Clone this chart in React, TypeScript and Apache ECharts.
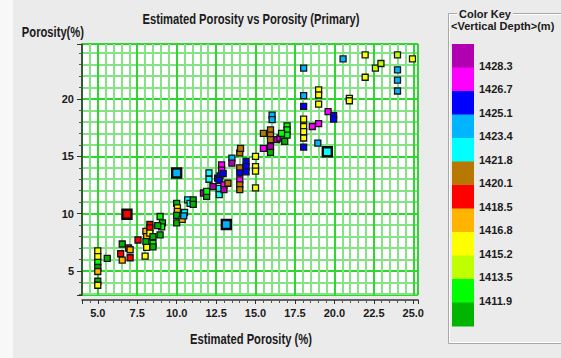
import React, { useEffect, useRef } from "react";
import * as echarts from "echarts";

// ---- data ----
const estPorosity = [
  5.0, 5.0, 5.0, 5.0, 5.0, 5.0, 5.0, 5.6, 6.55, 6.45, 6.55, 6.95, 7.05, 7.05, 7.55,
  8.0, 8.05, 8.1, 8.05, 8.1, 8.3, 8.3, 8.3, 8.5, 8.5, 8.5, 8.95, 9.1, 9.05, 8.8, 8.95,
  10.0, 10.05, 10.05, 10.0, 10.0, 10.35, 10.5, 10.45, 10.7, 10.85, 11.05, 11.05,
  11.7, 11.9, 11.9, 12.05, 12.05, 12.3, 12.6, 12.75, 12.7, 12.85, 12.85, 12.95, 12.7, 12.7,
  13.0, 13.0, 13.25, 13.5, 13.5, 14.0, 14.05, 14.0, 14.0, 14.0, 14.0, 14.0, 14.4, 14.4, 14.4,
  15.0, 15.0, 15.0, 15.0, 15.5, 15.95, 15.95, 15.95, 15.95, 15.95, 15.5, 16.05, 16.05,
  16.35, 16.55, 16.75, 17.0, 17.0, 17.0, 16.65, 16.85,
  18.05, 18.05, 18.05, 18.05, 18.05, 18.05, 18.05, 18.05, 18.6, 19.0, 18.95,
  19.0, 19.0, 19.0, 19.6, 19.95, 19.95, 20.95, 20.95, 20.55, 21.95, 21.95, 22.6, 22.95,
  24.0, 24.0, 24.0, 24.0, 24.95,
];
const porosity = [
  6.75, 6.25, 5.75, 5.3, 4.95, 4.1, 3.75, 6.1, 7.35, 6.5, 5.95, 7.0, 6.85, 6.15, 7.7,
  6.3, 8.45, 8.0, 7.55, 7.05, 9.05, 8.75, 8.3, 8.0, 7.4, 7.1, 9.75, 9.2, 8.85, 8.95, 8.15,
  10.9, 10.5, 10.2, 9.85, 9.2, 9.5, 10.1, 9.8, 11.2, 10.9, 11.2, 10.8,
  11.8, 11.5, 11.95, 13.55, 13.0, 12.35, 13.1, 13.3, 12.9, 14.25, 13.8, 13.5, 12.2, 11.65,
  12.5, 12.1, 12.65, 14.85, 14.4, 15.3, 15.7, 14.0, 13.55, 12.95, 12.5, 12.1, 14.55, 14.1, 13.65,
  15.0, 14.1, 13.7, 12.25, 17.0, 17.3, 16.85, 16.45, 15.85, 15.35, 15.7, 18.6, 18.2,
  16.45, 16.6, 16.7, 17.65, 17.3, 16.85, 17.0, 16.3,
  22.7, 20.3, 19.35, 18.25, 17.6, 17.15, 16.6, 15.8, 17.6, 17.85, 16.15,
  20.8, 20.35, 19.55, 18.9, 18.55, 18.25, 20.05, 19.85, 23.5, 23.85, 21.9, 22.7, 23.1,
  23.85, 22.55, 21.65, 20.7, 23.5,
];
const depthM = [
  1416.0, 1416.0, 1412.7, 1411.0, 1417.6, 1411.0, 1416.0, 1411.0, 1411.0, 1419.3, 1417.6, 1419.3, 1417.6, 1419.3, 1419.3,
  1416.0, 1417.6, 1417.6, 1411.0, 1416.0, 1419.3, 1419.3, 1416.0, 1411.0, 1412.7, 1411.0, 1412.7, 1411.0, 1412.7, 1411.0, 1411.0,
  1411.0, 1416.0, 1417.6, 1411.0, 1411.0, 1417.6, 1422.6, 1424.2, 1422.6, 1422.6, 1411.0, 1411.0,
  1429.1, 1411.0, 1412.7, 1422.6, 1422.6, 1429.1, 1425.9, 1425.9, 1425.9, 1427.5, 1427.5, 1425.9, 1422.6, 1422.6,
  1427.5, 1429.1, 1421.0, 1424.2, 1429.1, 1421.0, 1421.0, 1421.0, 1425.9, 1427.5, 1421.0, 1421.0, 1425.9, 1425.9, 1425.9,
  1416.0, 1416.0, 1416.0, 1416.0, 1421.0, 1421.0, 1421.0, 1421.0, 1429.1, 1411.0, 1427.5, 1424.2, 1424.2,
  1429.1, 1427.5, 1411.0, 1412.7, 1412.7, 1412.7, 1412.7, 1411.0,
  1424.2, 1424.2, 1425.9, 1416.0, 1416.0, 1416.0, 1416.0, 1425.9, 1427.5, 1427.5, 1424.2,
  1416.0, 1416.0, 1416.0, 1427.5, 1425.9, 1425.9, 1416.0, 1416.0, 1424.2, 1416.0, 1416.0, 1414.3, 1414.3,
  1414.3, 1424.2, 1424.2, 1424.2, 1416.0,
];
// highlighted (larger) points
const hlEstPorosity = [6.85, 10.0, 13.15, 19.55];
const hlPorosity = [9.95, 13.55, 9.05, 15.4];
const hlDepthM = [1419.3, 1424.2, 1424.2, 1422.6];

// colour key: breaks (low → high) and colours (low → high)
const depthBreaks = [1411.9, 1413.5, 1415.2, 1416.8, 1418.5, 1420.1, 1421.8, 1423.4, 1425.1, 1426.7, 1428.3];
const keyColors = [
  "#00b400", "#00ff00", "#c0ff00", "#ffff00", "#ffb400", "#ff0000",
  "#b87800", "#00ffff", "#00b4ff", "#0000ff", "#ff00ff", "#b000b0",
];

const titleText = "Estimated Porosity vs Porosity (Primary)";
const xName = "Estimated Porosity (%)";
const yName = "Porosity(%)";
const keyTitle = "Color Key";
const keySubtitle = "<Vertical Depth>(m)";

const SANS = "'Liberation Sans', Arial, sans-serif";
const HEAD_FONT = `bold 14px ${SANS}`;

export default function App() {
  const ref = useRef<HTMLDivElement>(null);
  useEffect(() => {
    if (!ref.current) return;
    const chart = echarts.init(ref.current, null, { renderer: "svg" });

    const pieces = keyColors.map((c, i) => {
      if (i === 0) return { lt: depthBreaks[0], color: c };
      if (i === keyColors.length - 1) return { gte: depthBreaks[depthBreaks.length - 1], color: c };
      return { gte: depthBreaks[i - 1], lt: depthBreaks[i], color: c };
    });

    const g: any[] = [];
    g.push({ type: "rect", shape: { x: 0, y: 0, width: 13, height: 358 }, style: { fill: "#f8f8f8" }, silent: true });
    // headings (condensed look through horizontal scaling)
    g.push({
      type: "text", x: 251, y: 20, scaleX: 0.8,
      style: { text: titleText, fill: "#1a1a1a", font: HEAD_FONT, align: "center", verticalAlign: "middle" },
    });
    g.push({
      type: "text", x: 251, y: 340, scaleX: 0.8,
      style: { text: xName, fill: "#1a1a1a", font: HEAD_FONT, align: "center", verticalAlign: "middle" },
    });
    g.push({
      type: "text", x: 84, y: 33, scaleX: 0.8,
      style: { text: yName, fill: "#1a1a1a", font: HEAD_FONT, align: "right", verticalAlign: "middle" },
    });

    // colour key
    const barX = 452, barTop = 44, blockH = 23.5, barW = 22;
    const n = keyColors.length;
    g.push({ type: "rect", shape: { x: 448.5, y: 13.5, width: 130, height: 330 }, style: { fill: "none", stroke: "#a8a8a8", lineWidth: 1 }, silent: true });
    g.push({ type: "rect", shape: { x: 449.5, y: 14.5, width: 130, height: 328 }, style: { fill: "none", stroke: "#ffffff", lineWidth: 1 }, silent: true });
    g.push({
      type: "text", x: 457, y: 14,
      style: { text: keyTitle, fill: "#1a1a1a", font: `bold 11px ${SANS}`, verticalAlign: "middle", backgroundColor: "#ebebeb", padding: [0, 2] },
    });
    g.push({
      type: "text", x: 451, y: 26,
      style: { text: keySubtitle, fill: "#1a1a1a", font: `bold 11px ${SANS}`, verticalAlign: "middle" },
    });
    for (let k = 0; k < n; k++) {
      const colorIdx = n - 1 - k; // top = deepest
      g.push({
        type: "rect",
        shape: { x: barX, y: barTop + k * blockH, width: barW, height: blockH + 0.5 },
        style: { fill: keyColors[colorIdx] },
        silent: true,
      });
    }
    for (let k = 0; k < depthBreaks.length; k++) {
      const bIdx = depthBreaks.length - 1 - k;
      g.push({
        type: "text",
        x: 479,
        y: barTop + (k + 1) * blockH - 2,
        style: { text: depthBreaks[bIdx].toFixed(1), fill: "#1a1a1a", font: `bold 11px ${SANS}`, verticalAlign: "middle" },
      });
    }

    const mainData = estPorosity.map((x, i) => [x, porosity[i], depthM[i]]);
    const hlData = hlEstPorosity.map((x, i) => [x, hlPorosity[i], hlDepthM[i]]);

    chart.setOption({
      animation: false,
      backgroundColor: "#ebebeb",
      grid: { left: 82, top: 44, right: 143, bottom: 63, show: true, backgroundColor: "#ffffff", borderWidth: 0 },
      xAxis: {
        type: "value",
        min: 4,
        max: 25.3,
        minInterval: 2.5,
        maxInterval: 2.5,
        splitNumber: 8,
        offset: 5,
        axisLine: { show: true, lineStyle: { color: "#333", width: 1.5 } },
        axisTick: { show: true, length: 4, lineStyle: { color: "#333" } },
        minorTick: { show: true, splitNumber: 5, length: 3, lineStyle: { color: "#555" } },
        axisLabel: {
          fontFamily: SANS, fontWeight: "bold", fontSize: 11, color: "#1a1a1a", margin: 7,
          formatter: (v: number) => (Math.abs(v / 2.5 - Math.round(v / 2.5)) < 1e-6 ? v.toFixed(1) : ""),
        },
        splitLine: { show: true, lineStyle: { color: "#2ed62e", width: 2 } },
        minorSplitLine: { show: true, lineStyle: { color: "#86e286", width: 2 } },
      },
      yAxis: {
        type: "value",
        min: 2.9,
        max: 24.8,
        minInterval: 5,
        maxInterval: 5,
        splitNumber: 4,
        axisLine: { show: true, lineStyle: { color: "#333", width: 1.5 } },
        axisTick: { show: true, length: 5, lineStyle: { color: "#333" } },
        minorTick: { show: true, splitNumber: 5, length: 3, lineStyle: { color: "#555" } },
        axisLabel: {
          fontFamily: SANS, fontWeight: "bold", fontSize: 11, color: "#1a1a1a", margin: 8,
          formatter: (v: number) => (Math.abs(v / 5 - Math.round(v / 5)) < 1e-6 ? String(v) : ""),
        },
        splitLine: { show: true, lineStyle: { color: "#2ed62e", width: 2 } },
        minorSplitLine: { show: true, lineStyle: { color: "#86e286", width: 2 } },
      },
      visualMap: {
        type: "piecewise",
        show: false,
        dimension: 2,
        seriesIndex: [0, 1],
        pieces,
      },
      series: [
        {
          type: "scatter",
          symbol: "rect",
          symbolSize: 6,
          data: mainData,
          itemStyle: { borderColor: "#151515", borderWidth: 1.3, opacity: 1 },
        },
        {
          type: "scatter",
          symbol: "rect",
          symbolSize: 9,
          data: hlData,
          itemStyle: { borderColor: "#0a0a0a", borderWidth: 2.4, opacity: 1 },
        },
      ],
      graphic: g,
    });
    return () => chart.dispose();
  }, []);
  return <div ref={ref} style={{ position: "fixed", left: 0, top: 0, width: 561, height: 358 }} />;
}
